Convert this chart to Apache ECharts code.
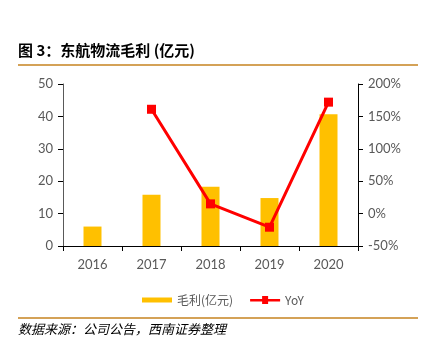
<!DOCTYPE html>
<html><head><meta charset="utf-8">
<script src="https://cdn.jsdelivr.net/npm/echarts@6/dist/echarts.min.js"></script>
<style>html,body{margin:0;padding:0;background:#fff}#c{width:422px;height:354px}</style>
</head><body><div id="c"></div>
<script>
const categories = ['2016','2017','2018','2019','2020'];
const grossProfit = [6.0, 15.8, 18.3, 14.8, 40.7];
const yoy = [null, 161, 15, -21, 172];
const leftTicks = [0, 50, 10];
const rightTicks = [-50, 200, 50];
const titleText = '图 3：东航物流毛利 (亿元)';
const sourceText = '数据来源：公司公告，西南证券整理';

const chart = echarts.init(document.getElementById('c'));
const lab = {color:'#595959', fontSize:13, fontFamily:'Lato, "Liberation Sans", sans-serif'};
chart.setOption({
  animation:false,
  grid:{left:63, right:64, top:84, bottom:108},
  legend:{
    top:289, left:137, itemGap:17, itemWidth:30, itemHeight:8,
    textStyle:{color:'#595959', fontSize:12, fontFamily:'"Noto Sans CJK SC", sans-serif'},
    data:[
      {name:'毛利(亿元)', icon:'path://M0,1.5H30V6.5H0Z'},
      {name:'YoY', icon:'path://M0,3H12V0H18V3H30V5.5H18V8H12V5.5H0Z'}
    ]
  },
  xAxis:{type:'category', data:categories,
    axisLine:{lineStyle:{color:'#000', width:1}},
    axisTick:{show:true, alignWithLabel:false, length:5, lineStyle:{color:'#000'}},
    axisLabel:Object.assign({margin:12}, lab)},
  yAxis:[
    {type:'value', min:leftTicks[0], max:leftTicks[1], interval:leftTicks[2],
     axisLine:{show:true, lineStyle:{color:'#595959'}},
     axisTick:{show:true, length:5, lineStyle:{color:'#000'}},
     splitLine:{show:false}, axisLabel:Object.assign({margin:10}, lab)},
    {type:'value', min:rightTicks[0], max:rightTicks[1], interval:rightTicks[2],
     axisLine:{show:true, lineStyle:{color:'#000'}},
     axisTick:{show:true, length:5, lineStyle:{color:'#000'}},
     splitLine:{show:false}, axisLabel:Object.assign({margin:10, formatter:'{value}%'}, lab)}
  ],
  series:[
    {name:'毛利(亿元)', type:'bar', data:grossProfit, barWidth:18, itemStyle:{color:'#FFC000'}},
    {name:'YoY', type:'line', yAxisIndex:1, data:yoy, symbol:'rect', symbolSize:9,
     lineStyle:{color:'#FF0000', width:3}, itemStyle:{color:'#FF0000'}}
  ],
  graphic:[
    {type:'text', left:18, top:43, style:{text:titleText, fill:'#000', font:'bold 15px "Noto Sans CJK SC", sans-serif'}},
    {type:'rect', shape:{x:18, y:64, width:400, height:2}, style:{fill:'#D4A257'}},
    {type:'rect', shape:{x:18, y:317, width:400, height:2}, style:{fill:'#D4A257'}},
    {type:'text', left:18, top:323, style:{text:sourceText, fill:'#000', font:'italic 13px "Noto Sans CJK SC", sans-serif'}}
  ]
});
</script></body></html>
